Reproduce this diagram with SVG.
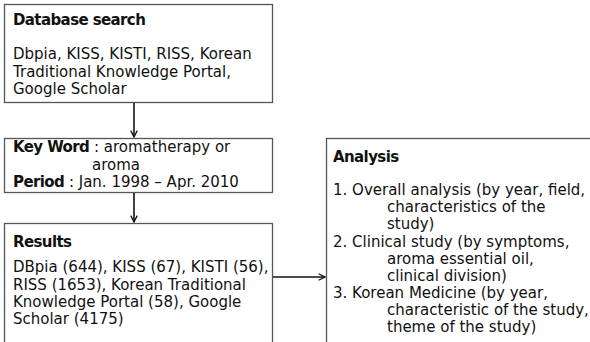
<svg xmlns="http://www.w3.org/2000/svg" width="590" height="342" viewBox="0 0 590 342">
<defs>
<marker id="ah" viewBox="0 0 10 10" refX="9" refY="5" markerWidth="8" markerHeight="8" orient="auto" markerUnits="userSpaceOnUse">
<path d="M1,1 L9,5 L1,9" fill="none" stroke="#111" stroke-width="1.6"/>
</marker>
<style>
.box{fill:#fff;stroke:#555;stroke-width:1.3}
text{font-family:"DejaVu Sans","Noto Sans",sans-serif;font-size:15px;fill:#111}
.b{font-weight:bold;letter-spacing:-0.6px}
.c{stroke:#111;stroke-width:1.6;fill:none}
</style>
</defs>
<rect width="590" height="342" fill="#fff"/>
<g id="n1">
<rect class="box" x="4.5" y="4.5" width="268" height="98"/>
<text class="b" x="13" y="25">Database search</text>
<text x="13" y="59">Dbpia, KISS, KISTI, RISS, Korean</text>
<text x="13" y="76.5">Traditional Knowledge Portal,</text>
<text x="13" y="94">Google Scholar</text>
</g>
<g id="n2">
<rect class="box" x="4.5" y="138.5" width="268" height="54"/>
<text x="13" y="152"><tspan class="b">Key Word</tspan> : aromatherapy or</text>
<text x="92" y="169.5">aroma</text>
<text x="13" y="187"><tspan class="b">Period</tspan> : Jan. 1998 – Apr. 2010</text>
</g>
<g id="n3">
<rect class="box" x="4.5" y="223.5" width="268" height="130"/>
<text class="b" x="13" y="247">Results</text>
<text x="13" y="272">DBpia (644), KISS (67), KISTI (56),</text>
<text x="13" y="289.5">RISS (1653), Korean Traditional</text>
<text x="13" y="307">Knowledge Portal (58), Google</text>
<text x="13" y="324">Scholar (4175)</text>
</g>
<g id="n4">
<rect class="box" x="326.5" y="138.5" width="280" height="215"/>
<text class="b" x="333" y="162">Analysis</text>
<text x="333" y="195">1. Overall analysis (by year, field,</text>
<text x="387" y="212">characteristics of the</text>
<text x="387" y="229">study)</text>
<text x="333" y="246.5">2. Clinical study (by symptoms,</text>
<text x="387" y="263.5">aroma essential oil,</text>
<text x="387" y="280.5">clinical division)</text>
<text x="333" y="298">3. Korean Medicine (by year,</text>
<text x="387" y="315">characteristic of the study,</text>
<text x="387" y="332">theme of the study)</text>
</g>
<g id="connectors">
<line class="c" x1="134" y1="103" x2="134" y2="137" marker-end="url(#ah)"/>
<line class="c" x1="134" y1="193" x2="134" y2="222" marker-end="url(#ah)"/>
<line class="c" x1="273" y1="277" x2="325" y2="277" marker-end="url(#ah)"/>
</g>
</svg>
